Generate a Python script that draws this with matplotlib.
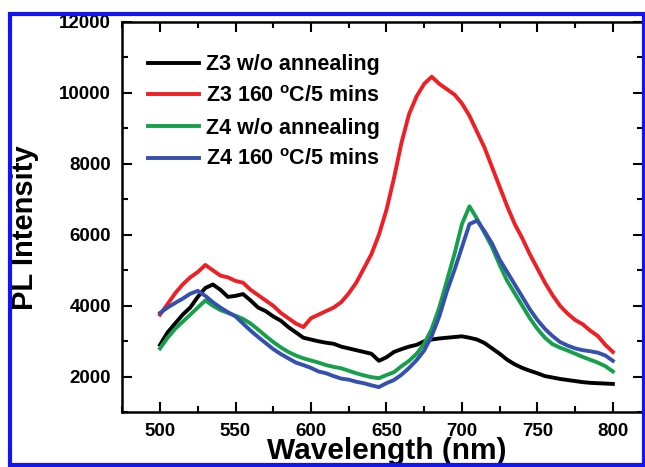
import numpy as np
import matplotlib
matplotlib.use('Agg')
import matplotlib.pyplot as plt
from matplotlib.patches import Rectangle
from matplotlib.ticker import MultipleLocator

plt.rcParams['font.family'] = 'Liberation Sans'
plt.rcParams['font.weight'] = 'bold'
plt.rcParams['mathtext.fontset'] = 'custom'
plt.rcParams['mathtext.rm'] = 'Liberation Sans:bold'
plt.rcParams['mathtext.bf'] = 'Liberation Sans:bold'

# wavelength grid (nm), values every 5 nm
wavelength = np.arange(500, 801, 5)

z3_raw = [2900, 3250, 3500, 3750, 3950, 4250, 4500, 4600, 4450, 4250,
          4280, 4330, 4150, 3950, 3850, 3700, 3580, 3400, 3250, 3100,
          3050, 3000, 2960, 2930, 2850, 2800, 2750, 2700, 2650, 2450,
          2550, 2700, 2780, 2850, 2900, 3000, 3050, 3080, 3100, 3120,
          3140, 3100, 3050, 2950, 2800, 2650, 2480, 2350, 2250, 2170,
          2100, 2020, 1980, 1940, 1910, 1880, 1850, 1830, 1820, 1810, 1800]

z3_ann = [3750, 4050, 4350, 4600, 4800, 4950, 5150, 5000, 4850, 4800,
          4700, 4650, 4450, 4300, 4150, 4000, 3800, 3650, 3500, 3400,
          3650, 3750, 3850, 3950, 4100, 4350, 4650, 5050, 5450, 6000,
          6700, 7600, 8600, 9400, 9900, 10250, 10450, 10250, 10100, 9950,
          9700, 9350, 8900, 8450, 7900, 7350, 6800, 6300, 5900, 5450,
          5050, 4650, 4300, 4000, 3780, 3600, 3480, 3300, 3150, 2900, 2700]

z4_raw = [2800, 3100, 3350, 3550, 3750, 3950, 4150, 4000, 3880, 3800,
          3720, 3630, 3500, 3330, 3150, 2980, 2830, 2700, 2600, 2520,
          2460, 2400, 2330, 2280, 2240, 2170, 2100, 2040, 1990, 1960,
          2050, 2130, 2300, 2450, 2650, 2930, 3350, 3950, 4700, 5450,
          6300, 6800, 6450, 6050, 5650, 5150, 4700, 4350, 4000, 3650,
          3350, 3100, 2920, 2820, 2740, 2650, 2560, 2480, 2400, 2300, 2150]

z4_ann = [3800, 3950, 4080, 4200, 4340, 4420, 4280, 4100, 3950, 3820,
          3700, 3500, 3300, 3120, 2950, 2780, 2640, 2520, 2400, 2330,
          2250, 2150, 2100, 2020, 1950, 1920, 1860, 1820, 1760, 1710,
          1820, 1910, 2060, 2250, 2470, 2740, 3150, 3700, 4400, 5000,
          5650, 6300, 6400, 6100, 5750, 5300, 4950, 4600, 4250, 3900,
          3600, 3350, 3150, 2980, 2880, 2800, 2750, 2720, 2680, 2600, 2450]

labels = ['Z3 w/o annealing', r'Z3 160 $^\mathbf{o}$C/5 mins',
          'Z4 w/o annealing', r'Z4 160 $^\mathbf{o}$C/5 mins']
colors = ['#000000', '#ee2026', '#17a04a', '#3550ae']

fig = plt.figure(figsize=(6.45, 4.67), dpi=100)
ax = fig.add_axes([0.1896, 0.1171, 0.8074, 0.8364])

for ys, lab, col in zip([z3_raw, z3_ann, z4_raw, z4_ann], labels, colors):
    ax.plot(wavelength, ys, color=col, linewidth=2.8, label=lab)

ax.set_xlim(475, 820)
ax.set_ylim(1000, 12000)
ax.xaxis.set_major_locator(MultipleLocator(50))
ax.xaxis.set_minor_locator(MultipleLocator(25))
ax.yaxis.set_major_locator(MultipleLocator(2000))
ax.yaxis.set_minor_locator(MultipleLocator(1000))
ax.tick_params(which='both', direction='in', top=True, right=True, width=1.5)
ax.tick_params(which='major', length=7, labelsize=13.5, pad=8)
ax.tick_params(which='minor', length=4)
for sp in ax.spines.values():
    sp.set_linewidth(1.8)

ax.set_xlabel('Wavelength (nm)', fontsize=21.5, fontweight='bold')
ax.set_ylabel('PL Intensity', fontsize=21, fontweight='bold')
ax.xaxis.set_label_coords(0.507, -0.064)
ax.yaxis.set_label_coords(-0.16, 0.474)

ax.legend(loc='upper left', bbox_to_anchor=(0.049, 0.917), frameon=False,
          fontsize=15.5, handlelength=2.4, handletextpad=0.3,
          labelspacing=0.5, borderpad=0, borderaxespad=0)

# white margin above the frame and the blue frame round the picture
fig.add_artist(Rectangle((0, 1 - 12 / 467), 1, 12 / 467, transform=fig.transFigure,
                         facecolor='white', edgecolor='none', zorder=5))
fig.add_artist(Rectangle((0, 0), 1, 1.5 / 467, transform=fig.transFigure,
                         facecolor='white', edgecolor='none', zorder=5))
fig.add_artist(Rectangle((9.5 / 645, 2 / 467), 634 / 645, 451.5 / 467,
                         transform=fig.transFigure, facecolor='none',
                         edgecolor='#1414f0', linewidth=3, zorder=6))

fig.savefig('out.png', dpi=100)
